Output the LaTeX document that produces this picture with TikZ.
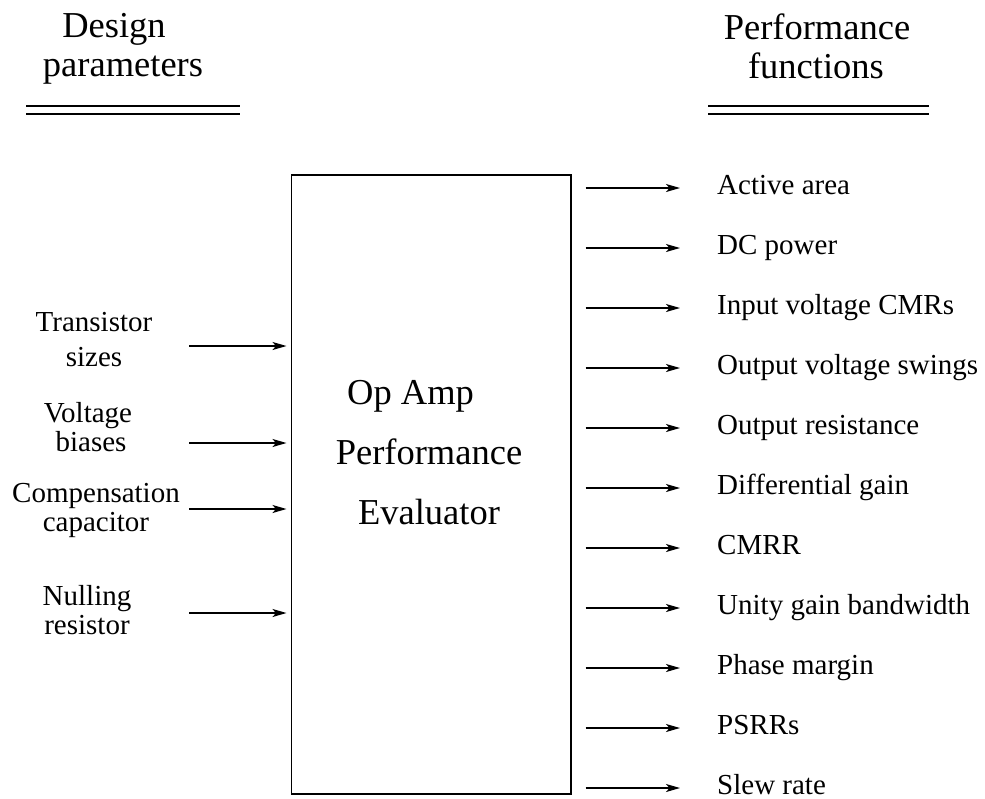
\documentclass[tikz,border=0pt]{standalone}
\usepackage{fontspec}
\setmainfont{Liberation Serif}
\usetikzlibrary{arrows.meta}

\begin{document}
\begin{tikzpicture}[x=1pt,y=-1pt,
  lbl/.style={font=\fontsize{29}{34}\selectfont, inner sep=0pt, text depth=0pt},
  big/.style={font=\fontsize{36.5}{42}\selectfont, inner sep=0pt},
  arr/.style={line width=1.5pt, -{Stealth[length=14pt,width=8pt,inset=3.5pt]}},
  rule/.style={line width=1.5pt},
  evalbox/.style={draw, line width=1.5pt, minimum width=279.5pt, minimum height=619pt, anchor=north west, inner sep=0pt}
]
\useasboundingbox (0,0) rectangle (985,798);

% column headings with double rules
\node[big, anchor=base] (hd1) at (114,37) {Design};
\node[big, anchor=base] (hd2) at (123,76) {parameters};
\draw[rule] (26,106) -- (240,106);
\draw[rule] (26,114) -- (240,114);

\node[big, anchor=base] (hp1) at (817,39) {Performance};
\node[big, anchor=base] (hp2) at (816,78) {functions};
\draw[rule] (708,106) -- (929,106);
\draw[rule] (708,114) -- (929,114);

% evaluator block
\node[evalbox] (box) at (290.5,174) {};
\node[big, anchor=base west] (t1) at (347,404) {Op Amp};
\node[big, anchor=base] (t2) at (429,464) {Performance};
\node[big, anchor=base] (t3) at (429,524) {Evaluator};

% design parameters (inputs)
\node[lbl, anchor=base] (i1a) at (94,331) {Transistor};
\node[lbl, anchor=base] (i1b) at (94,366) {sizes};
\node[lbl, anchor=base] (i2a) at (88,422) {Voltage};
\node[lbl, anchor=base] (i2b) at (91,451) {biases};
\node[lbl, anchor=base] (i3a) at (96,502) {Compensation};
\node[lbl, anchor=base] (i3b) at (96,531) {capacitor};
\node[lbl, anchor=base] (i4a) at (87,605) {Nulling};
\node[lbl, anchor=base] (i4b) at (87,634) {resistor};

\coordinate (s1) at (189,346);
\coordinate (s2) at (189,443);
\coordinate (s3) at (189,509);
\coordinate (s4) at (189,613);
\foreach \s in {s1,s2,s3,s4}
  \draw[arr, shorten >=4pt] (\s) -- (box.west |- \s);

% performance functions (outputs)
\foreach \n/\txt [count=\k from 0] in {
  o1/Active area, o2/DC power, o3/Input voltage CMRs,
  o4/Output voltage swings, o5/Output resistance, o6/Differential gain,
  o7/CMRR, o8/Unity gain bandwidth, o9/Phase margin, o10/PSRRs, o11/Slew rate}
{
  \coordinate (\n) at (680,188+60*\k);
  \draw[arr] ([xshift=14pt]box.east |- \n) -- (\n);
  \node[lbl, anchor=base west] (\n-l) at (717,194+60*\k) {\txt};
}
\end{tikzpicture}
\end{document}
